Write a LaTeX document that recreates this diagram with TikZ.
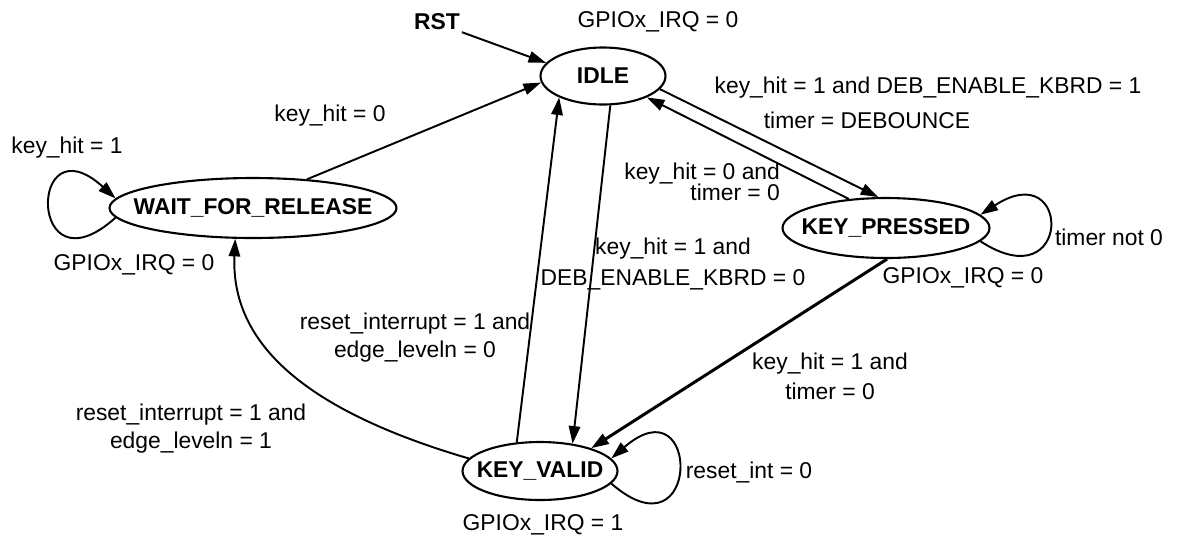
\documentclass[tikz,border=0pt]{standalone}
\usepackage{fontspec}
\setmainfont{Liberation Sans}
\usetikzlibrary{shapes.geometric,arrows.meta}
\tikzset{
  state/.style={draw, ellipse, line width=1.2pt, inner sep=0pt, font=\fontsize{13}{16}\selectfont\bfseries},
  lbl/.style={font=\fontsize{13}{16}\selectfont, inner sep=1pt},
  trans/.style={line width=1.1pt, -{Triangle[length=10pt,width=6.5pt]}},
}
\newcommand{\stname}[1]{\makebox[0pt]{#1}}
\begin{document}
\begin{tikzpicture}[x=0.02cm, y=-0.02cm]
        \useasboundingbox (0,0) rectangle (1177,539);
        % States
        \node[state, minimum width=2.5cm, minimum height=1.14cm] (idle) at (603,76) {\stname{IDLE}};
        \node[state, minimum width=5.74cm, minimum height=1.2cm] (wfr) at (253,208) {\stname{WAIT\_FOR\_RELEASE}};
        \node[state, minimum width=4.14cm, minimum height=1.2cm] (kp) at (886,228) {\stname{KEY\_PRESSED}};
        \node[state, minimum width=3.1cm, minimum height=1.16cm] (kv) at (540,471) {\stname{KEY\_VALID}};
        
        % Reset
        \node[lbl, font=\fontsize{13}{16}\selectfont\bfseries] (rst) at (437,22) {RST};
        \draw[trans] (rst.south east) -- (idle.167);
        
        % Outputs
        \node[lbl] (idleout) at (658,22) {GPIOx\_IRQ = 0};
        \node[lbl] (wfrout) at (134,265) {GPIOx\_IRQ = 0};
        \node[lbl] (kpout) at (963,278) {GPIOx\_IRQ = 0};
        \node[lbl] (kvout) at (543,525) {GPIOx\_IRQ = 1};
        
        % From WAIT_FOR_RELEASE
        \draw[trans] (wfr.28) -- (idle.186);
        \node[lbl] (c1) at (330,116) {key\_hit = 0};
        \draw[trans] (wfr.184) .. controls +(-88,79) and +(-88,-80) .. (wfr.176);
        \node[lbl] (c2) at (67,148) {key\_hit = 1};
        
        % From IDLE
        \draw[trans] (idle.347) -- (kp.104);
        \node[lbl] (c3) at (928,88) {key\_hit = 1 and DEB\_ENABLE\_KBRD = 1};
        \node[lbl] (a3) at (867,120) {timer = DEBOUNCE};
        \draw[trans] (idle.284) -- (kv.40);
        \node[lbl, align=center] (c6) at (673,264) {key\_hit = 1 and\\[2pt]DEB\_ENABLE\_KBRD = 0};
        
        % From KEY_PRESSED
        \draw[trans] (kp.142) -- (idle.334);
        \node[lbl, align=right, anchor=east] (c4) at (782,182) {key\_hit = 0 and\\[-4pt]timer = 0};
        \draw[trans] (kp.-8) .. controls +(92,60) and +(92,-60) .. (kp.8);
        \node[lbl] (c5) at (1109,237) {timer not 0};
        \draw[trans, line width=1.7pt] (kp.272) -- (kv.24);
        \node[lbl, align=center] (c7) at (830,376) {key\_hit = 1 and\\[1pt]timer = 0};
        
        % From KEY_VALID
        \draw[trans] (kv.129) -- (idle.206);
        \node[lbl, align=center] (c8) at (415,338) {reset\_interrupt = 1 and\\edge\_leveln = 0};
        \draw[trans] (kv.170) .. controls +(-150,-44) and +(-5,112) .. (wfr.240);
        \node[lbl, align=center] (c9) at (191,429) {reset\_interrupt = 1 and\\edge\_leveln = 1};
        \draw[trans] (kv.-10) .. controls +(90,78) and +(90,-78) .. (kv.10);
        \node[lbl] (c10) at (749,472) {reset\_int = 0};
    \end{tikzpicture}
\end{document}
